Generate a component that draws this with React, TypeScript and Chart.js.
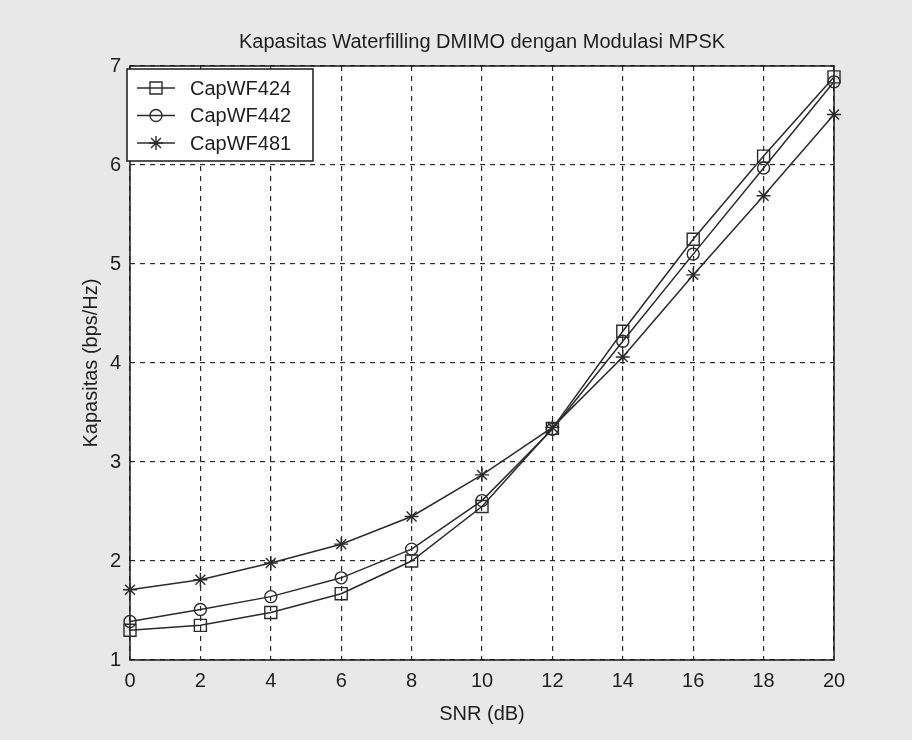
import React, { useEffect, useRef } from "react";
import { Chart, registerables } from "chart.js";

Chart.register(...registerables);

const snrDb = [0, 2, 4, 6, 8, 10, 12, 14, 16, 18, 20];
const capWF424 = [1.3, 1.35, 1.48, 1.67, 2.0, 2.55, 3.34, 4.32, 5.25, 6.09, 6.89];
const capWF442 = [1.39, 1.51, 1.64, 1.83, 2.12, 2.61, 3.33, 4.22, 5.1, 5.97, 6.84];
const capWF481 = [1.71, 1.81, 1.98, 2.17, 2.45, 2.87, 3.35, 4.06, 4.89, 5.69, 6.51];
const seriesLabels = ["CapWF424", "CapWF442", "CapWF481"];
const seriesMarkers = ["rect", "circle", "star"];
const titleText = "Kapasitas Waterfilling DMIMO dengan Modulasi MPSK";
const xAxisTitle = "SNR (dB)";
const yAxisTitle = "Kapasitas (bps/Hz)";

const FONT = "'Liberation Sans', Arial, sans-serif";
const INK = "#2b2b2b";

function drawMarker(ctx: CanvasRenderingContext2D, style: string, r: number, x: number, y: number) {
  ctx.beginPath();
  if (style === "rect") {
    const s = r * Math.SQRT1_2;
    ctx.rect(x - s, y - s, 2 * s, 2 * s);
  } else if (style === "circle") {
    ctx.arc(x, y, r, 0, Math.PI * 2);
  } else {
    for (let k = 0; k < 4; k++) {
      const a = (k * Math.PI) / 4;
      ctx.moveTo(x - Math.cos(a) * r, y - Math.sin(a) * r);
      ctx.lineTo(x + Math.cos(a) * r, y + Math.sin(a) * r);
    }
  }
  ctx.stroke();
}

const backgroundPlugin = {
  id: "bgPlugin",
  beforeDraw(chart: any) {
    const { ctx, chartArea, width, height } = chart;
    ctx.save();
    ctx.fillStyle = "#e8e8e8";
    ctx.fillRect(0, 0, width, height);
    ctx.fillStyle = "#ffffff";
    ctx.fillRect(chartArea.left, chartArea.top, chartArea.right - chartArea.left, chartArea.bottom - chartArea.top);
    ctx.restore();
  },
  beforeDatasetsDraw(chart: any) {
    const { ctx, chartArea } = chart;
    ctx.save();
    ctx.strokeStyle = "#1a1a1a";
    ctx.lineWidth = 1.5;
    ctx.strokeRect(chartArea.left, chartArea.top, chartArea.right - chartArea.left, chartArea.bottom - chartArea.top);
    ctx.restore();
  },
};

const boxLegendPlugin = {
  id: "boxLegend",
  afterDraw(chart: any) {
    const { ctx, chartArea } = chart;
    const left = chartArea.left - 3;
    const top = chartArea.top + 3;
    const w = 186;
    const h = 92;
    ctx.save();
    ctx.fillStyle = "#ffffff";
    ctx.fillRect(left, top, w, h);
    ctx.strokeStyle = "#1a1a1a";
    ctx.lineWidth = 1.5;
    ctx.strokeRect(left, top, w, h);
    chart.data.datasets.forEach((ds: any, i: number) => {
      const y = top + 19 + i * 27.5;
      ctx.strokeStyle = INK;
      ctx.lineWidth = 1.5;
      ctx.beginPath();
      ctx.moveTo(left + 10, y);
      ctx.lineTo(left + 48, y);
      ctx.stroke();
      ctx.lineWidth = 1.4;
      drawMarker(ctx, ds.pointStyle, ds.pointRadius, left + 29, y);
      ctx.fillStyle = "#1e1e1e";
      ctx.font = `20px ${FONT}`;
      ctx.textBaseline = "middle";
      ctx.textAlign = "left";
      ctx.fillText(ds.label, left + 63, y + 1);
    });
    ctx.restore();
  },
};

export default function App() {
  const canvasRef = useRef<HTMLCanvasElement | null>(null);

  useEffect(() => {
    if (!canvasRef.current) return;
    const series = [capWF424, capWF442, capWF481];
    const radii = [8.5, 6, 7];
    const chart = new Chart(canvasRef.current, {
      type: "line",
      data: {
        datasets: series.map((vals, i) => ({
          label: seriesLabels[i],
          data: snrDb.map((x, j) => ({ x, y: vals[j] })),
          borderColor: INK,
          borderWidth: 1.5,
          backgroundColor: "rgba(0,0,0,0)",
          pointStyle: seriesMarkers[i] as any,
          pointRadius: radii[i],
          pointBorderColor: INK,
          pointBorderWidth: 1.4,
          pointBackgroundColor: "rgba(0,0,0,0)",
          tension: 0,
          fill: false,
          clip: false as any,
        })),
      },
      options: {
        animation: false,
        responsive: false,
        layout: { padding: { left: 0, right: 78, top: 0, bottom: 0 } },
        plugins: {
          legend: { display: false },
          tooltip: { enabled: false },
          title: {
            display: true,
            text: titleText,
            fullSize: false,
            color: "#1e1e1e",
            font: { family: FONT, size: 20, weight: "normal" },
            padding: { top: 30, bottom: 12 },
          },
        },
        scales: {
          x: {
            type: "linear",
            min: 0,
            max: 20,
            ticks: {
              stepSize: 2,
              color: "#1e1e1e",
              font: { family: FONT, size: 20 },
              padding: 9,
              maxRotation: 0,
            },
            grid: {
              color: "#2a2a2a",
              lineWidth: 1.2,
              drawTicks: false,
            },
            border: { display: false, dash: [5, 5] },
            title: {
              display: true,
              text: xAxisTitle,
              color: "#1e1e1e",
              font: { family: FONT, size: 20 },
              padding: { top: 0, bottom: 14 },
            },
            afterFit(scale: any) {
              scale.height = 80;
            },
          },
          y: {
            type: "linear",
            min: 1,
            max: 7,
            ticks: {
              stepSize: 1,
              color: "#1e1e1e",
              font: { family: FONT, size: 20 },
              padding: 9,
            },
            grid: {
              color: "#2a2a2a",
              lineWidth: 1.2,
              drawTicks: false,
            },
            border: { display: false, dash: [5, 5] },
            title: {
              display: true,
              text: yAxisTitle,
              color: "#1e1e1e",
              font: { family: FONT, size: 20 },
              padding: { top: 79, bottom: 0 },
            },
            afterFit(scale: any) {
              scale.width = 130;
            },
          },
        },
      },
      plugins: [backgroundPlugin, boxLegendPlugin],
    });
    return () => chart.destroy();
  }, []);

  return (
    <div style={{ position: "fixed", left: 0, top: 0, width: 912, height: 740 }}>
      <canvas ref={canvasRef} width={912} height={740} />
    </div>
  );
}
